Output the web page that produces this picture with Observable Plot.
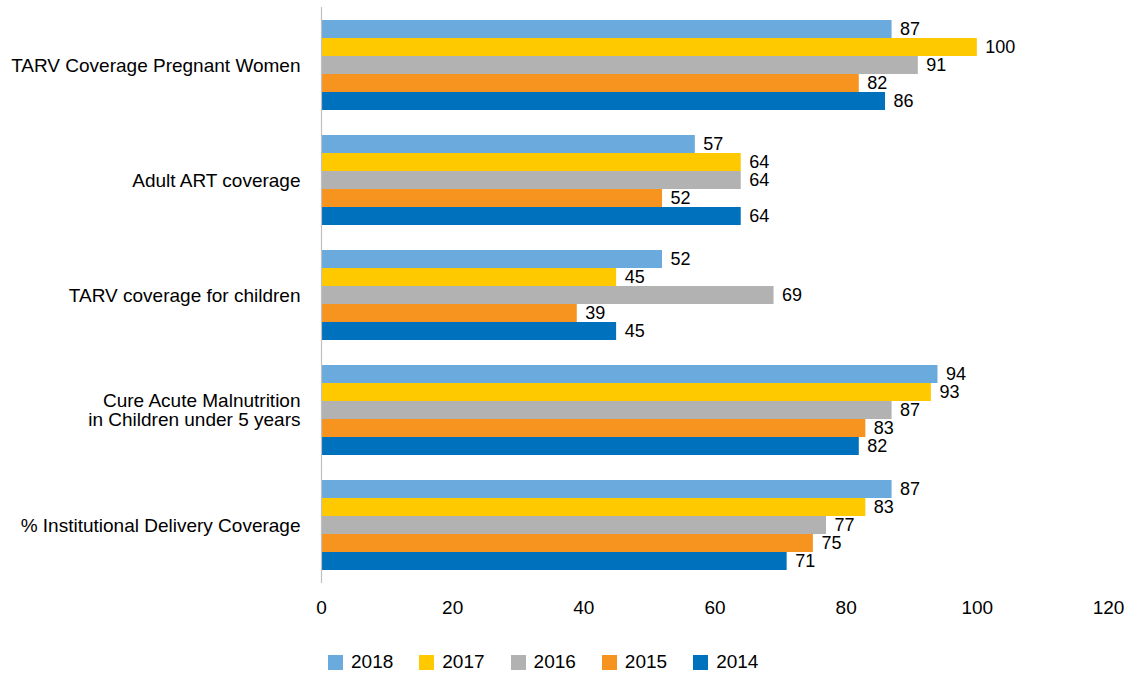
<!DOCTYPE html>
<html>
<head>
<meta charset="utf-8">
<script src="https://cdn.jsdelivr.net/npm/d3@7"></script>
<script src="https://cdn.jsdelivr.net/npm/@observablehq/plot@0.6"></script>
<style>
  html, body { margin: 0; padding: 0; background: #fff; }
  body { width: 1129px; height: 675px; overflow: hidden; font-family: "Liberation Sans", Arial, sans-serif; }
  #legend { display: flex; align-items: center; margin-left: 328px; margin-top: 26px; font-size: 19px; color: #000; }
  #legend .item { display: flex; align-items: center; margin-right: 26px; }
  #legend .sw { width: 15px; height: 15px; margin-right: 8px; }
</style>
</head>
<body>
<div id="chart"></div>
<div id="legend"></div>
<script>
const categories = [
  "TARV Coverage Pregnant Women",
  "Adult ART coverage",
  "TARV coverage for children",
  "Cure Acute Malnutrition\nin Children under 5 years",
  "% Institutional Delivery Coverage"
];
const years = ["2018", "2017", "2016", "2015", "2014"];
const values2018 = [87, 57, 52, 94, 87];
const values2017 = [100, 64, 45, 93, 83];
const values2016 = [91, 64, 69, 87, 77];
const values2015 = [82, 52, 39, 83, 75];
const values2014 = [86, 64, 45, 82, 71];
const xTicks = [0, 20, 40, 60, 80, 100, 120];
const colors = ["#6BAADC", "#FFC900", "#B2B2B2", "#F7941F", "#0071BD"];

const series = [values2018, values2017, values2016, values2015, values2014];
const data = [];
categories.forEach((c, i) => {
  years.forEach((y, j) => {
    data.push({category: c, year: y, value: series[j][i]});
  });
});

const chart = Plot.plot({
  width: 1129,
  height: 625,
  marginLeft: 321,
  marginRight: 21,
  marginTop: 7,
  marginBottom: 43,
  style: {fontSize: "19px", fontFamily: "'Liberation Sans', Arial, sans-serif", color: "#000", background: "#fff"},
  x: {domain: [0, 120], axis: null},
  y: {domain: years, padding: 0, axis: null},
  fy: {domain: categories, paddingInner: 0.2, paddingOuter: 0.1, label: null, tickSize: 0, tickPadding: 21, axis: "left"},
  color: {domain: years, range: colors},
  marks: [
    Plot.axisX(xTicks, {tickSize: 0, dy: 20, fontSize: 19, label: null}),
    Plot.barX(data, {x: "value", y: "year", fy: "category", fill: "year", insetLeft: 1}),
    Plot.text(data, {x: "value", y: "year", fy: "category", text: d => String(d.value), textAnchor: "start", dx: 8, fill: "#000", fontSize: 18}),
    Plot.ruleX([0], {stroke: "#BFBFBF", strokeWidth: 1.2, insetTop: -12, insetBottom: -12})
  ]
});
document.getElementById("chart").appendChild(chart);

const legend = document.getElementById("legend");
years.forEach((y, i) => {
  const item = document.createElement("div");
  item.className = "item";
  const sw = document.createElement("div");
  sw.className = "sw";
  sw.style.background = colors[i];
  const label = document.createElement("span");
  label.textContent = y;
  item.appendChild(sw);
  item.appendChild(label);
  legend.appendChild(item);
});
</script>
</body>
</html>
